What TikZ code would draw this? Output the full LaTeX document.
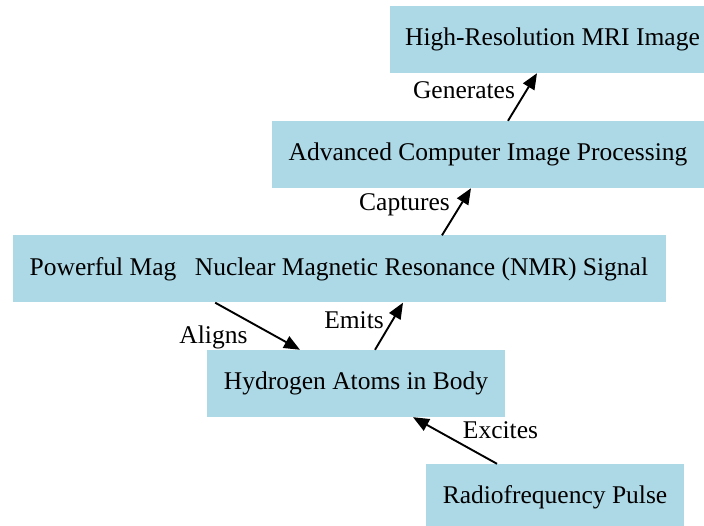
\documentclass[tikz,border=0pt]{standalone}
\usepackage{fontspec}
\setmainfont{Liberation Serif}
\usetikzlibrary{arrows.meta}
\definecolor{boxblue}{HTML}{ADD8E6}
\tikzset{
  box/.style={fill=boxblue, draw=none, inner sep=0pt, minimum height=67pt,
    font=\fontsize{25.5}{30}\selectfont, text=black},
  lbl/.style={inner sep=0pt, font=\fontsize{25.5}{30}\selectfont, text=black},
  arr/.style={-{Triangle[length=16pt,width=13pt]}, line width=1.9pt, black}
}
\begin{document}
\begin{tikzpicture}[x=1pt, y=-1pt]
  \useasboundingbox (0,0) rectangle (704,526);
  \clip (0,0) rectangle (704,526);

  % boxes (the magnet box lies under the NMR box)
  \node[box, minimum width=325pt] (mri) at (552.5,39.5) {High-Resolution MRI Image};
  \node[box, minimum width=432pt] (adv) at (488,154.5) {Advanced Computer Image Processing};
  \node[box, minimum width=288pt, anchor=west] (mag) at (13,269) {Powerful Magnetic Field};
  \node[box, minimum width=489pt] (nmr) at (421.5,269) {Nuclear Magnetic Resonance (NMR) Signal};
  \node[box, minimum width=298pt] (hyd) at (356,383.5) {Hydrogen Atoms in Body};
  \node[box, minimum width=258pt] (rf) at (555,497.5) {Radiofrequency Pulse};

  % connectors
  \draw[arr] ([xshift=20pt]adv.north) -- ([xshift=-15.5pt]mri.south);
  \draw[arr] ([xshift=20.5pt]nmr.north) -- ([xshift=-17pt]adv.south);
  \draw[arr] ([xshift=58pt]mag.south) -- ([xshift=-56pt]hyd.north);
  \draw[arr] ([xshift=19pt]hyd.north) -- ([xshift=-18.5pt]nmr.south);
  \draw[arr] ([xshift=-58pt]rf.north) -- ([xshift=57pt]hyd.south);

  % connector labels
  \node[lbl] (lgen) at (464,90) {Generates};
  \node[lbl] (lcap) at (404.5,205) {Captures};
  \node[lbl] (lali) at (213.5,337) {Aligns};
  \node[lbl] (lemi) at (354,320) {Emits};
  \node[lbl] (lexc) at (500.5,430) {Excites};
\end{tikzpicture}
\end{document}
